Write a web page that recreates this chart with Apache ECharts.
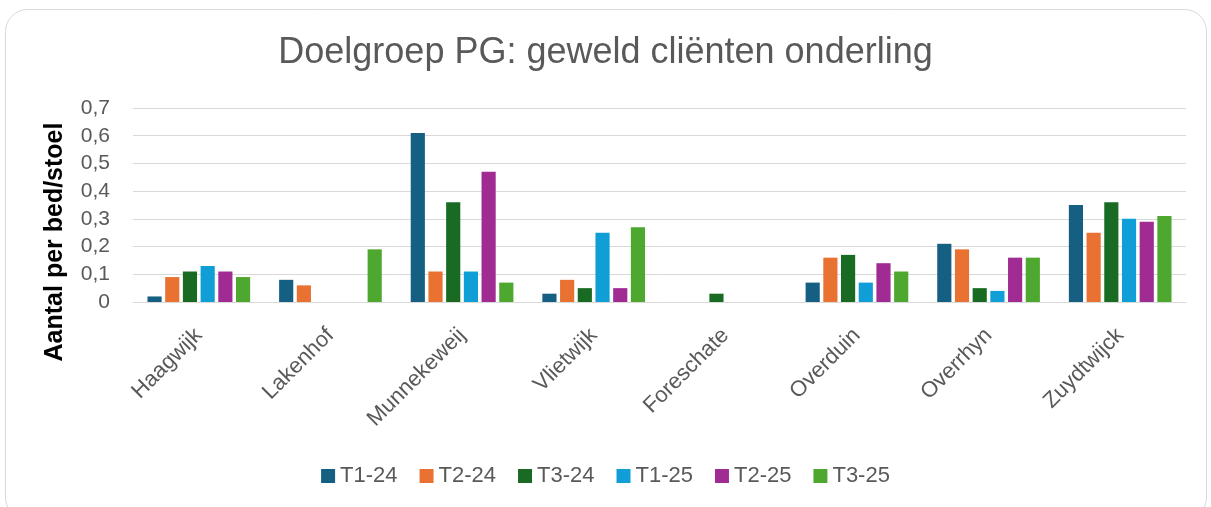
<!DOCTYPE html>
<html>
<head>
<meta charset="utf-8">
<title>Doelgroep PG: geweld cliënten onderling</title>
<script src="https://cdn.jsdelivr.net/npm/echarts@6/dist/echarts.min.js"></script>
<style>
  html, body { margin: 0; padding: 0; background: #fff; }
  #chart { width: 1211px; height: 507px; }
</style>
</head>
<body>
<div id="chart"></div>
<script>
// categorieën en waarden
const locaties = ['Haagwijk', 'Lakenhof', 'Munnekeweij', 'Vlietwijk', 'Foreschate', 'Overduin', 'Overrhyn', 'Zuydtwijck']
const periodes = ['T1-24', 'T2-24', 'T3-24', 'T1-25', 'T2-25', 'T3-25']

const t1_24 = [0.02, 0.08, 0.61, 0.03, 0, 0.07, 0.21, 0.35]
const t2_24 = [0.09, 0.06, 0.11, 0.08, 0, 0.16, 0.19, 0.25]
const t3_24 = [0.11, 0, 0.36, 0.05, 0.03, 0.17, 0.05, 0.36]
const t1_25 = [0.13, 0, 0.11, 0.25, 0, 0.07, 0.04, 0.30]
const t2_25 = [0.11, 0, 0.47, 0.05, 0, 0.14, 0.16, 0.29]
const t3_25 = [0.09, 0.19, 0.07, 0.27, 0, 0.11, 0.16, 0.31]

const yTicks = [0, 0.1, 0.2, 0.3, 0.4, 0.5, 0.6, 0.7]

const kleuren = ['#156082', '#E97132', '#196B24', '#0F9ED5', '#A02B93', '#4EA72E']
const reeksen = [t1_24, t2_24, t3_24, t1_25, t2_25, t3_25]

const chart = echarts.init(document.getElementById('chart'))

const option = {
  animation: false,
  textStyle: { fontFamily: 'Liberation Sans, Arial, sans-serif' },
  title: {
    text: 'Doelgroep PG: geweld cliënten onderling',
    left: 'center',
    top: 30,
    textStyle: {
      fontSize: 36,
      fontWeight: 'normal',
      color: '#595959'
    }
  },
  graphic: [
    {
      type: 'rect',
      shape: { x: 5.5, y: 9.5, width: 1201, height: 510, r: 22 },
      style: { fill: 'none', stroke: '#d9d9d9', lineWidth: 1 },
      silent: true,
      z: -1
    },
    {
      // as-titel, iets onder het midden van het plotvlak zoals in het origineel
      type: 'text',
      x: 55,
      y: 242,
      rotation: Math.PI / 2,
      style: {
        text: 'Aantal per bed/stoel',
        fontSize: 25,
        fontWeight: 'bold',
        fontFamily: 'Liberation Sans, Arial, sans-serif',
        fill: '#000',
        align: 'center',
        verticalAlign: 'middle'
      }
    }
  ],
  grid: {
    left: 133,
    right: 25,
    top: 108,
    bottom: 205
  },
  legend: {
    top: 460,
    left: 'center',
    itemWidth: 14,
    itemHeight: 14,
    itemGap: 22,
    icon: 'rect',
    textStyle: { fontSize: 22, color: '#595959' },
    data: periodes
  },
  xAxis: {
    type: 'category',
    data: locaties,
    axisLine: { lineStyle: { color: '#d9d9d9', width: 1 } },
    axisTick: { show: false },
    axisLabel: {
      rotate: 45,
      interval: 0,
      margin: 30,
      fontSize: 22,
      color: '#595959'
    }
  },
  yAxis: {
    type: 'value',
    min: 0,
    max: 0.7,
    interval: 0.1,
    axisLine: { show: false },
    axisTick: { show: false },
    axisLabel: {
      fontSize: 21,
      color: '#595959',
      margin: 23,
      formatter: v => {
        const t = yTicks.find(x => Math.abs(x - v) < 1e-9)
        return t === 0 ? '0' : String(t).replace('.', ',')
      }
    },
    splitLine: { lineStyle: { color: '#d9d9d9', width: 1 } }
  },
  series: reeksen.map((d, i) => ({
    name: periodes[i],
    type: 'bar',
    data: d,
    barGap: '25%',
    barCategoryGap: '22%',
    itemStyle: { color: kleuren[i] }
  }))
}

chart.setOption(option)
window.addEventListener('resize', () => chart.resize())
</script>
</body>
</html>
